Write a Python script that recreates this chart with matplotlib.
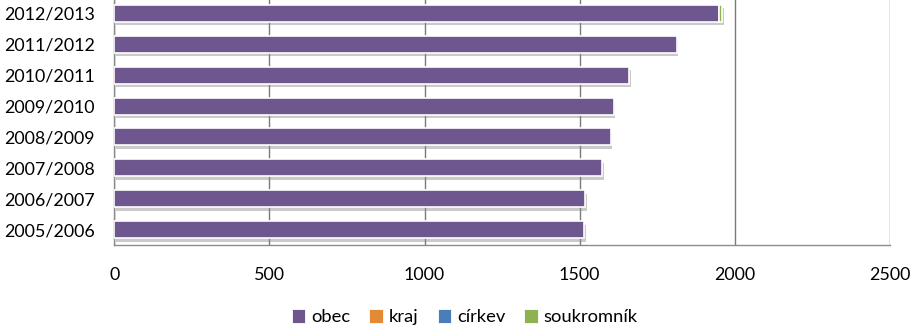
import matplotlib
matplotlib.use("Agg")
import matplotlib.pyplot as plt
import matplotlib.patheffects as pe
import numpy as np

plt.rcParams['font.family'] = ['Lato', 'DejaVu Sans']

# School years and number of pupils by founder type
years = ["2005/2006", "2006/2007", "2007/2008", "2008/2009",
         "2009/2010", "2010/2011", "2011/2012", "2012/2013"]
obec = [1516, 1519, 1574, 1600, 1610, 1661, 1813, 1950]
kraj = [0, 0, 0, 0, 0, 0, 0, 0]
cirkev = [0, 0, 0, 0, 0, 0, 0, 0]
soukromnik = [0, 0, 0, 0, 0, 0, 0, 10]

series = [("obec", obec, "#6E578F"),
          ("kraj", kraj, "#E38A35"),
          ("církev", cirkev, "#4A7EBB"),
          ("soukromník", soukromnik, "#8DB24E")]

fig = plt.figure(figsize=(9.13, 3.26), dpi=100)
ax = fig.add_axes([0.1254, 0.2485, 0.8489, 0.7577])

y = np.arange(len(years))
left = np.zeros(len(years))
shadow = [pe.SimplePatchShadow(offset=(1.0, -2.5), shadow_rgbFace="#8a8a8a", alpha=0.45),
          pe.Normal()]
handles = []
for name, vals, color in series:
    vals = np.asarray(vals, dtype=float)
    mask = vals > 0
    if mask.any():
        bars = ax.barh(y[mask], vals[mask], left=left[mask], height=0.55,
                       color=color, edgecolor="white", linewidth=1.2, zorder=3)
        for b in bars:
            b.set_path_effects(shadow)
    left += vals
    handles.append(plt.Rectangle((0, 0), 1, 1, facecolor=color,
                                 edgecolor="white", linewidth=0.6))

ax.set_xlim(0, 2500)
ax.set_ylim(-0.5, len(years) - 0.5)
ax.set_xticks(np.arange(0, 2501, 500))
ax.set_yticks(y)
ax.set_yticklabels(years)
ax.xaxis.grid(True, color="#7a7a7a", linewidth=1.0, zorder=0)
ax.set_axisbelow(True)
ax.tick_params(axis="both", length=0, labelsize=12.9, colors="black")
ax.tick_params(axis="x", pad=15.5)
ax.tick_params(axis="y", pad=14)
for s in ["top", "right"]:
    ax.spines[s].set_visible(False)
for s in ["left", "bottom"]:
    ax.spines[s].set_color("#8c8c8c")
    ax.spines[s].set_linewidth(1.0)

fig.legend(handles, [s[0] for s in series], loc="center",
           bbox_to_anchor=(0.509, 0.027), ncol=4, frameon=False,
           fontsize=13.2, handlelength=0.75, handleheight=0.8,
           handletextpad=0.3, columnspacing=1.05)

fig.savefig("out.png", dpi=100)
